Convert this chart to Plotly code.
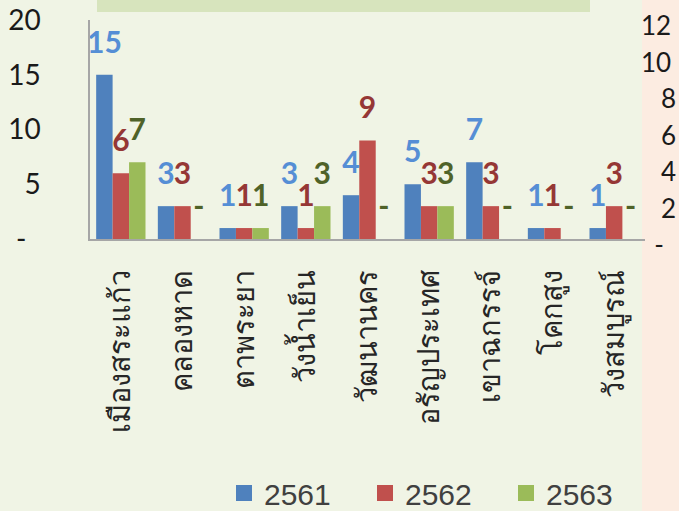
import plotly.graph_objects as go

categories = ["เมืองสระแก้ว", "คลองหาด", "ตาพระยา", "วังน้ำเย็น", "วัฒนานคร",
              "อรัญประเทศ", "เขาฉกรรจ์", "โคกสูง", "วังสมบูรณ์"]
years = ["2561", "2562", "2563"]
v2561 = [15, 3, 1, 3, 4, 5, 7, 1, 1]
v2562 = [6, 3, 1, 1, 9, 3, 3, 1, 3]
v2563 = [7, 0, 1, 3, 0, 3, 0, 0, 0]
series = [v2561, v2562, v2563]

left_ticks = [0, 5, 10, 15, 20]
left_tick_labels = ["-\u00a0\u00a0", "5", "10", "15", "20"]
right_ticks = [0, 2, 4, 6, 8, 10, 12]
right_tick_labels = ["\u00a0\u00a0-", "\u00a0\u00a0\u00a02", "\u00a0\u00a0\u00a04",
                     "\u00a0\u00a0\u00a06", "\u00a0\u00a0\u00a08", "10", "12"]

bar_colors = ["#4F81BD", "#C0504D", "#9BBB59"]
label_colors = ["#558ED5", "#953735", "#4F6228"]

W, H = 679, 511
ML, MR, MT, MB = 90, 34, 20, 266
PH = H - MT - MB  # plot height
PW = W - ML - MR

fig = go.Figure()

for i, vals in enumerate(series):
    fig.add_trace(go.Bar(
        x=categories, y=vals, marker=dict(color=bar_colors[i], line=dict(width=0)),
        showlegend=False, hoverinfo="skip", name=years[i],
    ))

for i, vals in enumerate(series):
    fig.add_trace(go.Scatter(
        x=categories, y=vals, mode="markers+text",
        text=[str(v) if v else "-" for v in vals],
        textposition="top center",
        textfont=dict(family="Lato", size=30, color=label_colors[i], weight="bold"),
        marker=dict(size=22, opacity=0),
        showlegend=False, hoverinfo="skip", cliponaxis=False,
    ))

for i, y in enumerate(years):
    fig.add_trace(go.Scatter(
        x=[None], y=[None], mode="markers", yaxis="y2",
        marker=dict(symbol="square", size=27, color=bar_colors[i]),
        name=y, hoverinfo="skip",
    ))

fig.update_layout(
    width=W, height=H,
    margin=dict(l=ML, r=MR, t=MT, b=MB, pad=0, autoexpand=False),
    paper_bgcolor="#F0F4E5", plot_bgcolor="rgba(0,0,0,0)",
    barmode="group", bargap=0.2, bargroupgap=0,
    scattermode="group", scattergap=0.2,
    xaxis=dict(
        anchor="y", showline=True, linecolor="#A6A6A6", linewidth=1.5,
        showgrid=False, zeroline=False, ticks="", tickangle=-90, automargin=False,
        tickfont=dict(family="Noto Sans", size=29, color="#262626"),
        ticklabelstandoff=18,
    ),
    yaxis=dict(
        domain=[6 / PH, 1], range=[0, 20], tickvals=left_ticks, ticktext=left_tick_labels,
        showline=True, linecolor="#A6A6A6", linewidth=1.5, showgrid=False,
        zeroline=False, ticks="", automargin=False,
        tickfont=dict(family="Lato", size=28, color="#1a1a1a"),
        ticklabelstandoff=42,
    ),
    yaxis2=dict(
        anchor="free", position=(640 - ML) / PW, side="right",
        domain=[0, (PH - 6) / PH], range=[0, 12],
        tickvals=right_ticks, ticktext=right_tick_labels, showline=False,
        showgrid=False, zeroline=False, ticks="", automargin=False,
        tickfont=dict(family="Lato", size=26, color="#1a1a1a"),
    ),
    legend=dict(
        orientation="h", x=(224 - ML) / PW, xanchor="left",
        y=(H - MB - 493) / PH, yanchor="middle", entrywidth=96,
        font=dict(family="Liberation Sans", size=30, color="#404040"),
        bgcolor="rgba(0,0,0,0)", itemclick=False,
    ),
    shapes=[
        dict(type="rect", xref="paper", yref="paper", layer="below",
             x0=(642 - ML) / PW, x1=1.2, y0=-1.3, y1=1.2,
             fillcolor="#FCECE1", line=dict(width=0)),
        dict(type="rect", xref="paper", yref="paper", layer="below",
             x0=(97 - ML) / PW, x1=(590 - ML) / PW,
             y0=1 + 8 / PH, y1=1.2, fillcolor="#D7E4BD", line=dict(width=0)),
    ],
)

fig.write_html("out.html", config={"displayModeBar": False},
               post_script="document.body.style.margin='0';")
